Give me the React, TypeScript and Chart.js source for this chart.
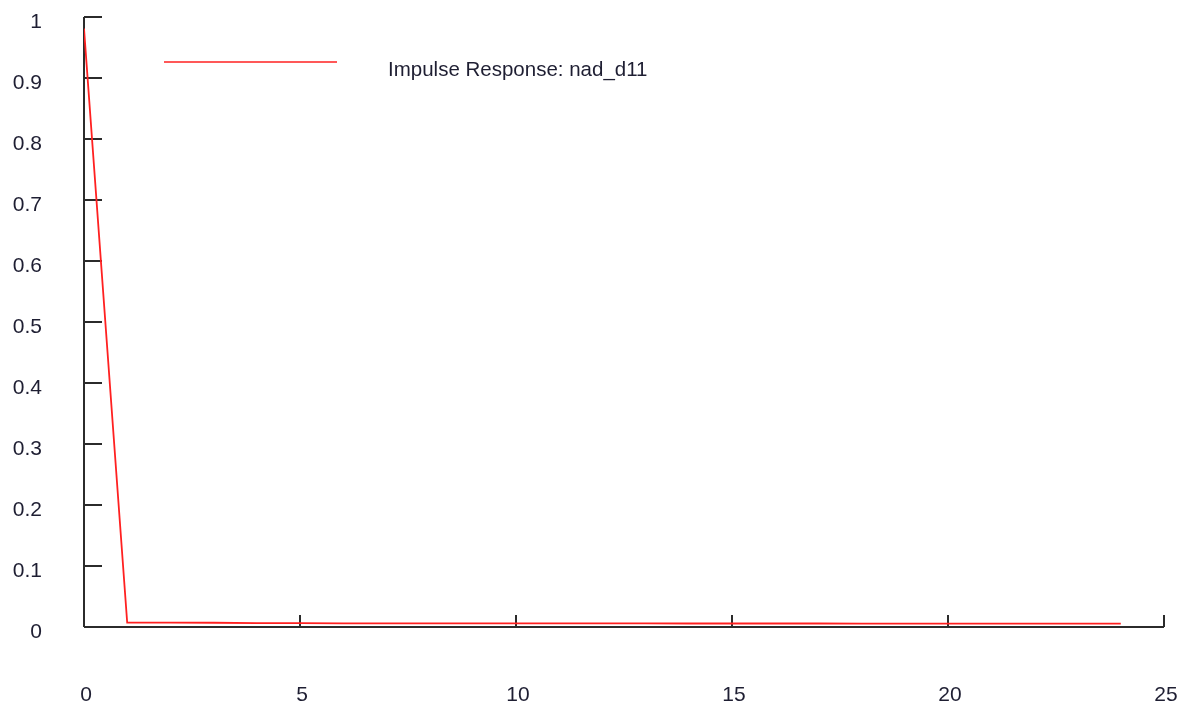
import React, { useEffect, useRef } from "react";
import { Chart, registerables } from "chart.js";

Chart.register(...registerables);

const periods: number[] = [0, 1, 2, 3, 4, 5, 6, 7, 8, 9, 10, 11, 12, 13, 14, 15, 16, 17, 18, 19, 20, 21, 22, 23, 24];
const responseValues: number[] = [
  0.981, 0.0074, 0.0072, 0.0070, 0.0064, 0.0062, 0.0061, 0.0060, 0.0060, 0.0059, 0.0059, 0.0058, 0.0058,
  0.0058, 0.0057, 0.0057, 0.0057, 0.0057, 0.0056, 0.0056, 0.0056, 0.0056, 0.0056, 0.0055, 0.0055,
];
const seriesLabel = "Impulse Response: nad_d11";
const xTickValues: number[] = [0, 5, 10, 15, 20, 25];
const yTickValues: number[] = [0, 0.1, 0.2, 0.3, 0.4, 0.5, 0.6, 0.7, 0.8, 0.9, 1];

const AXIS_COLOR = "#2b2b2b";
const TEXT_COLOR = "#1e1e32";
const LINE_COLOR = "#ff2020";
const FONT_FAMILY = "Arial, 'Liberation Sans', sans-serif";

const zeroPadding = (scale: any) => {
  scale.paddingTop = 0;
  scale.paddingBottom = 0;
  scale.paddingLeft = 0;
  scale.paddingRight = 0;
};

const axesPlugin = {
  id: "customAxes",
  beforeDatasetsDraw(chart: any) {
    const { ctx, scales } = chart;
    const xs = scales.x;
    const ys = scales.y;
    ctx.save();
    ctx.strokeStyle = AXIS_COLOR;
    ctx.lineWidth = 2;
    ctx.beginPath();
    const y0 = ys.getPixelForValue(0);
    const yTop = ys.getPixelForValue(1);
    const x0 = xs.getPixelForValue(0);
    const xEnd = xs.getPixelForValue(25);
    ctx.moveTo(x0, y0);
    ctx.lineTo(x0, yTop);
    ctx.moveTo(x0, y0);
    ctx.lineTo(xEnd, y0);
    yTickValues.forEach((v) => {
      if (v === 0) return;
      const py = ys.getPixelForValue(v);
      ctx.moveTo(x0, py);
      ctx.lineTo(x0 + 18, py);
    });
    xTickValues.forEach((v) => {
      if (v === 0) return;
      const px = xs.getPixelForValue(v);
      ctx.moveTo(px, y0);
      ctx.lineTo(px, y0 - 12);
    });
    ctx.stroke();
    ctx.restore();
  },
  afterDraw(chart: any) {
    const { ctx } = chart;
    const ds = chart.data.datasets[0];
    ctx.save();
    ctx.strokeStyle = LINE_COLOR;
    ctx.lineWidth = 1.6;
    ctx.beginPath();
    ctx.moveTo(164, 62);
    ctx.lineTo(337, 62);
    ctx.stroke();
    ctx.fillStyle = TEXT_COLOR;
    ctx.font = `20.5px ${FONT_FAMILY}`;
    ctx.textAlign = "left";
    ctx.textBaseline = "alphabetic";
    ctx.fillText(ds.label, 388, 76);
    ctx.restore();
  },
};

export default function App() {
  const canvasRef = useRef<HTMLCanvasElement | null>(null);

  useEffect(() => {
    const canvas = canvasRef.current;
    if (!canvas) return;
    const chart = new Chart(canvas, {
      type: "line",
      data: {
        datasets: [
          {
            label: seriesLabel,
            data: periods.map((p, i) => ({ x: p, y: responseValues[i] })),
            borderColor: LINE_COLOR,
            borderWidth: 1.8,
            pointRadius: 0,
            tension: 0,
            fill: false,
          },
        ],
      },
      options: {
        responsive: false,
        animation: false,
        devicePixelRatio: 1,
        layout: { padding: { top: 17, right: 20, left: 0, bottom: 0 } },
        plugins: {
          legend: { display: false },
          tooltip: { enabled: false },
          title: { display: false },
        },
        scales: {
          x: {
            type: "linear",
            min: 0,
            max: 25,
            afterFit: (scale: any) => {
              scale.height = 80;
              zeroPadding(scale);
            },
            afterBuildTicks: (scale: any) => {
              scale.ticks = xTickValues.map((v) => ({ value: v }));
            },
            grid: { display: false },
            border: { display: false },
            ticks: {
              color: TEXT_COLOR,
              font: { size: 21, family: FONT_FAMILY },
              padding: 48,
              labelOffset: 2,
              maxRotation: 0,
              callback: (v: any) => String(v),
            },
          },
          y: {
            type: "linear",
            min: 0,
            max: 1,
            afterFit: (scale: any) => {
              scale.width = 84;
              zeroPadding(scale);
            },
            afterBuildTicks: (scale: any) => {
              scale.ticks = yTickValues.map((v) => ({ value: v }));
            },
            grid: { display: false },
            border: { display: false },
            ticks: {
              color: TEXT_COLOR,
              font: { size: 21, family: FONT_FAMILY },
              padding: 34,
              labelOffset: 5,
              callback: (v: any) => String(Number(Number(v).toFixed(2))),
            },
          },
        },
      },
      plugins: [axesPlugin],
    });
    return () => chart.destroy();
  }, []);

  return (
    <div style={{ position: "absolute", left: 0, top: 0, width: 1184, height: 707, background: "#fff" }}>
      <canvas ref={canvasRef} width={1184} height={707} />
    </div>
  );
}
